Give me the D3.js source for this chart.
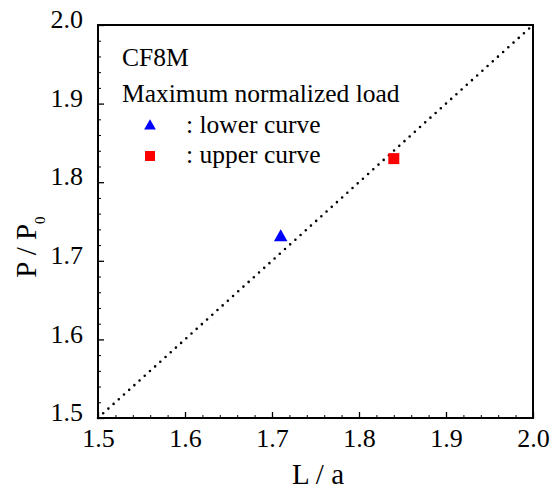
<!DOCTYPE html>
<html>
<head>
<meta charset="utf-8">
<script src="https://cdn.jsdelivr.net/npm/d3@7"></script>
<style>
  body { margin: 0; background: #fff; }
  svg { display: block; }
  svg text { font-family: "Liberation Serif", "Times New Roman", serif; }
</style>
</head>
<body>
<div id="chart"></div>
<script>
const width = 555,
  height = 490,
  margin = { left: 98, right: 22, top: 25, bottom: 72 };

// data
const xDomain = [1.5, 2.0];
const yDomain = [1.5, 2.0];
const majorTicks = [1.5, 1.6, 1.7, 1.8, 1.9, 2.0];
const minorTicks = [1.52, 1.54, 1.56, 1.58, 1.62, 1.64, 1.66, 1.68, 1.72, 1.74, 1.76, 1.78,
  1.82, 1.84, 1.86, 1.88, 1.92, 1.94, 1.96, 1.98];
const refLine = [[1.5, 1.5], [2.0, 2.0]];
const lowerCurve = [[1.71, 1.73]];
const upperCurve = [[1.84, 1.83]];
const legendLabels = [": lower curve", ": upper curve"];

const x = d3.scaleLinear().domain(xDomain).range([margin.left, width - margin.right]);
const y = d3.scaleLinear().domain(yDomain).range([height - margin.bottom, margin.top]);

const svg = d3.select("#chart").append("svg")
  .attr("width", width)
  .attr("height", height);

// dotted 1:1 line
svg.append("path")
  .datum(refLine)
  .attr("d", d3.line().x(d => x(d[0])).y(d => y(d[1])))
  .attr("fill", "none")
  .attr("stroke", "#000")
  .attr("stroke-width", 2.6)
  .attr("stroke-linecap", "round")
  .attr("stroke-dasharray", "0,7");

// minor ticks
svg.append("g")
  .attr("transform", `translate(0,${y(1.5)})`)
  .call(d3.axisBottom(x).tickValues(minorTicks).tickSize(-3).tickFormat(""))
  .call(g => g.select(".domain").remove());
svg.append("g")
  .attr("transform", `translate(${x(1.5)},0)`)
  .call(d3.axisLeft(y).tickValues(minorTicks).tickSize(-3).tickFormat(""))
  .call(g => g.select(".domain").remove());

// major ticks + labels
const xAxis = svg.append("g")
  .attr("transform", `translate(0,${y(1.5)})`)
  .call(d3.axisBottom(x).tickValues(majorTicks).tickSize(-6).tickPadding(11).tickFormat(d3.format(".1f")));
const yAxis = svg.append("g")
  .attr("transform", `translate(${x(1.5)},0)`)
  .call(d3.axisLeft(y).tickValues(majorTicks).tickSize(-6).tickPadding(15).tickFormat(d3.format(".1f")));

[xAxis, yAxis].forEach(a => {
  a.select(".domain").remove();
  a.attr("font-family", null);
  a.selectAll("text")
    .attr("font-size", 26)
    .attr("fill", "#000");
  a.selectAll("line").attr("stroke-width", 1.3);
});
yAxis.selectAll("text").attr("dy", "0.1em");

svg.selectAll("g line").attr("stroke", "#000");

// frame
svg.append("rect")
  .attr("x", x(1.5))
  .attr("y", y(2.0))
  .attr("width", x(2.0) - x(1.5))
  .attr("height", y(1.5) - y(2.0))
  .attr("fill", "none")
  .attr("stroke", "#000")
  .attr("stroke-width", 2);

// markers
const tri = d3.symbol().type(d3.symbolTriangle);
svg.append("g")
  .selectAll("path")
  .data(lowerCurve)
  .join("path")
  .attr("transform", d => `translate(${x(d[0])},${y(d[1])})`)
  .attr("d", tri.size(80))
  .attr("fill", "#0000ff");

svg.append("g")
  .selectAll("rect")
  .data(upperCurve)
  .join("rect")
  .attr("x", d => x(d[0]) - 5.5)
  .attr("y", d => y(d[1]) - 5.5)
  .attr("width", 11)
  .attr("height", 11)
  .attr("fill", "#ff0000");

// legend
const legend = svg.append("g").attr("font-size", 25.5).attr("fill", "#000");
legend.append("text").attr("x", 122).attr("y", 66).text("CF8M");
legend.append("text").attr("x", 122).attr("y", 102).text("Maximum normalized load");

legend.append("path")
  .attr("transform", "translate(150,126)")
  .attr("d", d3.symbol().type(d3.symbolTriangle).size(60)())
  .attr("fill", "#0000ff");
legend.append("rect")
  .attr("x", 145).attr("y", 151).attr("width", 10).attr("height", 10)
  .attr("fill", "#ff0000");

legend.selectAll(".lab")
  .data(legendLabels)
  .join("text")
  .attr("class", "lab")
  .attr("x", 186)
  .attr("y", (d, i) => 133 + i * 30)
  .text(d => d);

// axis titles
svg.append("text")
  .attr("x", 318)
  .attr("y", 484)
  .attr("text-anchor", "middle")
  .attr("font-size", 29)
  .text("L / a");

const yt = svg.append("text")
  .attr("transform", "translate(36,247) rotate(-90)")
  .attr("text-anchor", "middle")
  .attr("font-size", 29);
yt.append("tspan").text("P / P");
yt.append("tspan").attr("font-size", 15).attr("dy", 9).text("0");
</script>
</body>
</html>
